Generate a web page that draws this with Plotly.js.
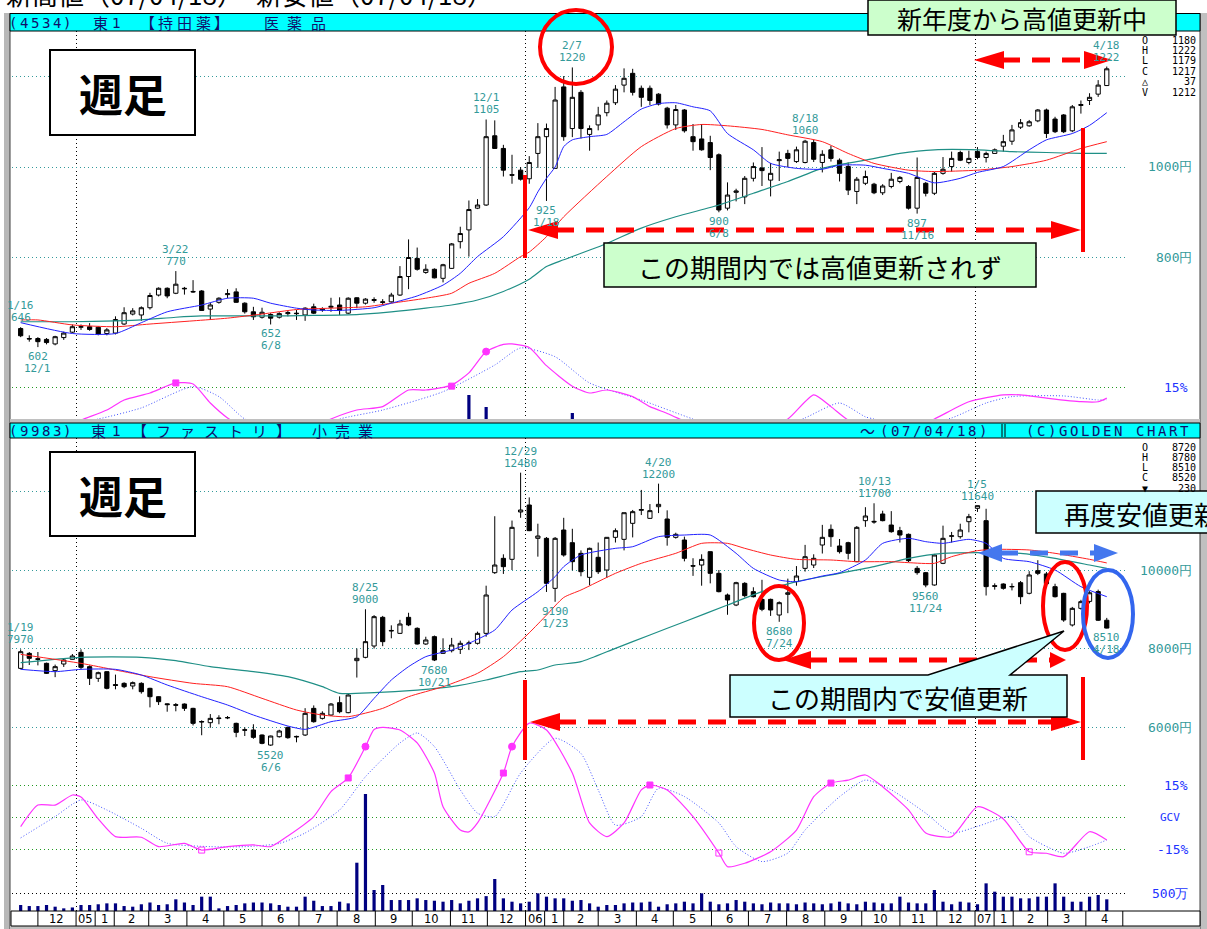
<!DOCTYPE html>
<html><head><meta charset="utf-8">
<script src="https://cdn.plot.ly/plotly-3.0.1.min.js"></script>
<style>html,body{margin:0;padding:0;background:#fff;overflow:hidden}#chart{width:1207px;height:929px}</style>
</head><body><div id="chart"></div><script>
// ---------------- DATA ----------------
// weekly candles, week index k = -7 .. 119 (week 0 = week of 2005-01-03)
const weekFirst = -7, weekLast = 119;
// 4534 持田薬
const topOpen = [643,621,621,619,609,623,635,
 646,647,646,632,633,653,675,673,689,717,
 732,721,732,725,726,686,701,718,724,699,
 680,668,674,668,676,677,673,691,684,690,
 695,677,711,699,705,702,702,717,758,798,
 767,774,754,776,835,861,909,916,1069,1041,
 983,993,974,1030,1067,997,1177,1085,1165,1072,
 1093,1120,1142,1181,1207,1174,1174,1161,1130,1093,
 1126,1067,1062,1054,1027,909,944,934,975,998,
 971,1014,1030,1012,1010,1054,1010,1038,1015,1001,
 946,964,962,943,957,968,957,909,964,942,
 986,1001,1032,1010,1034,1021,1030,1046,1057,1088,
 1091,1102,1126,1106,1115,1080,1136,1147,1161,1180];
const topHigh = [646,628,624,622,627,636,652,
 652,655,648,644,670,690,688,692,722,734,
 734,770,735,750,728,700,712,730,732,701,
 691,689,677,679,682,684,690,698,690,711,
 712,712,712,710,712,708,722,781,840,822,
 785,776,786,832,868,926,929,1105,1103,1049,
 1027,1000,1024,1097,1096,1177,1201,1220,1170,1092,
 1133,1147,1181,1218,1217,1180,1180,1163,1133,1137,
 1128,1095,1095,1069,1030,966,952,980,1010,1044,
 1009,1034,1038,1045,1060,1060,1037,1047,1019,1010,
 978,992,965,962,987,980,960,1021,967,989,
 1022,1034,1036,1036,1044,1034,1041,1071,1093,1106,
 1104,1128,1129,1111,1117,1137,1147,1163,1192,1222];
const topLow = [624,614,602,608,606,618,633,
 640,638,628,628,630,651,672,660,685,714,
 710,719,718,722,682,662,698,710,700,676,
 662,665,652,665,670,662,660,675,680,680,
 673,675,688,696,700,695,700,715,730,771,
 764,754,745,775,820,802,907,914,1041,979,
 963,970,963,998,925,997,1058,1066,1063,1036,
 1081,1112,1137,1165,1158,1133,1137,1136,1085,1082,
 1076,1036,1036,993,900,904,924,918,968,958,
 935,969,1000,1009,1008,1011,988,1012,968,938,
 918,960,940,938,953,964,906,897,935,938,
 983,990,1013,1006,1017,1010,1030,1034,1049,1084,
 1089,1099,1064,1075,1075,1077,1118,1137,1155,1179];
const topClose = [627,620,614,612,625,633,647,
 647,641,631,640,663,678,682,689,716,732,
 715,741,731,724,683,695,710,720,701,680,
 669,679,666,676,678,676,688,677,686,692,
 683,710,699,708,707,701,717,758,800,774,
 774,755,784,830,853,906,916,1067,1041,993,
 982,973,1010,1067,1085,1148,1067,1154,1085,1085,
 1115,1141,1172,1196,1165,1154,1147,1139,1093,1127,
 1080,1056,1038,1021,905,938,947,975,1001,992,
 986,1016,1019,1038,1057,1017,1028,1019,986,949,
 973,979,943,958,973,977,909,977,942,986,
 995,1019,1015,1019,1021,1030,1038,1056,1082,1098,
 1100,1126,1074,1078,1078,1133,1138,1154,1181,1217];
const topMA13Wk = [-7,-1,4,7,10,14,17,20,22,25,27,30,34,36,39,42,44,46,49,52,53,54,55,56,57,59,61,63,65,67,69,71,73,75,78,80,83,86,88,91,93,96,99,102,104,107,110,112,115,117,119];
const topMA13 = [656,632,632,656,680,695,710,710,699,688,684,683,689,699,715,739,765,802,846,910,945,975,1000,1045,1060,1067,1072,1100,1128,1140,1142,1133,1124,1074,1038,1008,997,995,1004,1004,997,986,965,975,988,1001,1038,1060,1074,1092,1120];
const topMA26Wk = [-7,-5,-1,4,8,13,17,21,25,29,33,36,40,43,45,48,51,52,54,56,61,65,69,72,75,79,82,86,89,92,96,99,104,108,112,116,119];
const topMA26 = [662,662,651,647,653,660,666,675,685,688,691,699,710,721,743,765,802,812,846,890,979,1045,1085,1094,1091,1083,1071,1056,1030,1008,993,990,993,1001,1015,1041,1056];
const topMA52Wk = [-7,-1,4,7,11,14,18,24,27,31,36,40,43,46,49,52,54,56,61,65,69,74,78,82,86,91,95,99,104,108,112,116,119];
const topMA52 = [658,658,660,662,668,671,671,671,672,673,680,688,695,706,725,752,780,795,831,865,890,916,942,968,997,1015,1030,1038,1038,1034,1032,1030,1030];
const topOscWk = [-3,0,3,5,8,11,13,15,17,19,23,27,29,32,35,38,40,43,45,47,49,50,52,54,57,59,61,64,66,68,70,74,79,82,85,87,89,92,96,99,103,107,109,112,116,118,119];
const topOsc = [-6,-0.5,4.2,8.9,12.2,16.9,16.4,7.5,0.5,-4,-8,-4,0,4.2,5.8,13.6,13.6,15.9,21.6,31.6,35,35.2,33.5,25,15.4,12.2,13.6,10.5,5.8,2.6,-1,-8,-4,0,11.3,5.8,-0.5,-5,-5,0,8.1,11.3,11.3,9.8,8.1,8.1,9.8];
const topSigWk = [-3,2,7,13,16,19,23,27,30,35,42,48,51,55,59,65,71,76,81,84,88,91,92,96,101,105,108,114,118,119];
const topSig = [-3,0,5.2,15.2,10.5,0,-6,-5,0,4.2,12.8,25.3,33.3,29.2,16.9,8.9,0,-6,-4,0.5,7.5,1,0,-4,0.5,7.5,10.5,10.8,8.9,9];
const topSqWk = [11,43], topSq = [16.9,15.4];
const topDotWk = [47], topDot = [31.6];
const topVolWk = [45,47,57], topVol = [65,53,47];

// 9983 ファストリ
const botOpen = [7494,7876,7740,7622,7435,7605,7724,
 7902,7537,7240,7410,7080,7112,7045,7112,6985,6772,
 6590,6570,6585,6475,6140,6110,6215,6240,6093,5930,
 5924,5796,5540,5753,5990,5760,5796,6475,6220,6305,
 6620,6365,7690,7775,8064,8794,8460,8386,8794,8514,
 8115,8302,7877,7945,7979,8125,8132,8386,9932,10297,
 10272,11478,11656,10807,10807,9533,11019,10696,10424,9813,
 10323,10000,10832,10781,11189,11520,11316,11613,11299,10832,
 10764,10110,10127,10467,9915,9363,9108,9660,9448,9252,
 9252,8853,9380,9703,10042,10127,10637,11036,10612,10696,
 10212,11257,11240,11427,11146,11002,10909,10042,9932,9618,
 10170,10860,10849,11231,11571,11257,9600,9643,9570,9677,
 9406,9983,9900,9575,9405,8599,9023,9200,9450,8720];
const botHigh = [7978,7910,7910,7640,7590,7740,7860,
 7978,7570,7410,7420,7335,7140,7160,7140,7000,6780,
 6600,6610,6600,6490,6170,6330,6300,6280,6110,5990,
 6070,5810,5780,5930,6010,5780,6480,6550,6400,6610,
 6780,6840,8000,9000,8850,8830,8590,8730,8910,8540,
 8300,8330,8260,8270,8200,8200,8430,9600,11370,10400,
 11260,12480,11850,11180,10840,10840,11330,11050,10500,10570,
 10700,10840,11060,11460,11530,12040,11680,12200,11520,10950,
 10850,10300,10400,10470,10000,9400,9700,9690,9560,9750,
 9270,9200,9780,10100,10640,10400,11150,11160,10790,10720,
 11120,11600,11700,11510,11500,11100,10930,10100,9950,10410,
 11130,10970,11180,11430,11640,11560,9660,9660,9660,9720,
 9970,10250,9950,9650,9420,9060,9240,9460,9500,8780];
const botLow = [7470,7580,7570,7350,7270,7530,7720,
 7470,7070,7150,6960,6960,6990,6960,6850,6500,6560,
 6390,6400,6410,6040,5790,5980,6070,6200,5740,5770,
 5700,5560,5520,5730,5700,5610,5770,6110,6190,6280,
 6350,6350,7260,7750,8000,8060,8260,8370,8570,8100,
 8090,7680,7860,7900,7860,7960,8100,8300,9900,9900,
 10000,11330,10990,10340,9440,9190,10340,9990,9840,9610,
 9900,9800,10700,10500,10830,11400,11300,11450,10620,10800,
 10220,9850,9600,9660,9430,8860,9080,9300,9300,8950,
 8830,8680,8900,9600,9960,10050,10420,10590,10420,10270,
 10200,11100,11180,11240,10950,10700,10200,9880,9560,9600,
 10150,10700,10800,10960,11480,9350,9500,9500,9480,9130,
 9380,9870,9600,9300,8680,8560,8990,9150,8700,8510];
const botClose = [7919,7749,7724,7367,7537,7707,7809,
 7520,7240,7384,6985,7060,7027,7130,6900,6772,6645,
 6570,6555,6475,6093,6130,6220,6225,6235,5864,5920,
 5736,5583,5770,5898,5728,5750,6348,6135,6348,6585,
 6390,6815,7750,8174,8811,8174,8450,8624,8600,8115,
 8217,7707,7945,8089,8132,8140,8386,9363,10127,10085,
 11087,11529,11002,10866,9660,10807,10382,10212,9957,10552,
 9957,10832,11002,11460,11486,11540,11512,11673,10832,10909,
 10297,10100,10270,9915,9448,9236,9677,9346,9320,9000,
 8981,9168,9420,9847,10339,10297,10832,10849,10467,10425,
 11087,11376,11225,11257,10976,10891,10238,9932,9618,10382,
 10807,10870,11019,11359,11639,9576,9585,9533,9580,9320,
 9873,9915,9650,9320,8726,9023,9193,9420,8720,8520];
const botVol = [169,140,140,169,122,75,100,
 169,169,190,216,216,140,122,190,240,169,
 190,330,240,169,405,405,75,140,169,216,
 240,240,216,169,122,122,405,290,140,140,
 263,216,1364,3305,593,735,310,310,310,358,
 310,290,263,310,216,290,358,420,904,358,
 263,216,263,499,405,358,358,290,310,216,
 122,169,169,216,240,240,263,122,190,216,
 263,216,499,263,190,216,310,263,216,190,
 240,216,216,190,240,216,190,216,263,216,
 190,263,240,216,216,405,240,216,216,593,
 263,190,263,240,190,781,546,405,405,358,
 358,405,405,781,405,263,263,405,452,330];
const botMA13Wk = [-7,-3,0,4,7,10,14,17,20,24,26,29,32,34,36,38,40,43,45,48,50,53,55,56,58,62,64,67,70,73,76,78,81,83,86,88,91,93,96,98,100,103,105,107,110,113,116,119];
const botMA13 = [7469,7410,7469,7469,7325,7070,6772,6560,6305,6025,5940,6135,6263,6730,7197,7537,7792,7962,8132,8471,8980,9448,9830,10085,10382,10552,10594,10849,10891,10891,10425,10042,9745,9703,9847,9932,10255,10679,10807,10722,10679,10781,10679,10297,10212,10000,9575,9320];
const botMA26Wk = [-7,0,4,8,13,17,21,25,28,31,35,38,42,46,49,52,54,56,58,62,65,69,72,75,77,80,83,87,90,94,96,99,101,104,106,110,113,117,119];
const botMA26 = [7851,7622,7452,7282,7112,7027,6730,6433,6305,6263,6475,6772,7027,7367,7792,8400,8850,9300,9490,9915,10170,10425,10679,10679,10552,10382,10272,10255,10212,10212,10187,10170,10340,10493,10527,10510,10425,10272,10180];
const botMA52Wk = [-7,0,7,11,15,20,24,28,30,34,39,43,47,51,53,55,58,62,66,70,75,79,83,88,92,96,100,105,109,113,117,119];
const botMA52 = [7640,7775,7775,7690,7537,7410,7282,7027,6857,6875,6942,7027,7197,7410,7452,7579,7664,8004,8344,8683,9108,9448,9703,9915,10085,10297,10425,10442,10425,10297,10127,10040];
const botOscWk = [-7,-5,-3,-1,0,2,4,7,9,12,14,17,20,22,24,27,29,31,33,34,35,37,39,41,42,44,45,46,49,50,52,54,57,59,61,63,65,66,68,71,74,75,77,80,83,85,87,89,91,93,96,98,101,104,107,110,112,114,117,119];
const botOsc = [-4.5,5.6,5.6,10.3,9.4,-0.9,-9.2,-9.5,-13.9,-12.4,-15.5,-13.9,-13.1,-13.9,-8.9,0.2,11.9,18.3,33,41,42,40.8,34.7,20.6,4.8,-6.1,-7,-2.8,20.6,33,44,40.8,20.6,-2.8,-9.2,-2.8,12.7,15,12.7,0.2,-16.9,-23.3,-21.7,-16.3,-6.1,9.5,15.9,17.3,19.7,14.2,3.3,-7.5,-9.2,4.8,-0.9,-16.3,-17,-18.6,-6.9,-10.8];
const botSigWk = [-7,-3,0,3,7,10,15,19,23,26,30,33,37,39,41,44,46,48,51,55,58,60,62,65,67,70,74,76,79,82,84,88,91,94,98,101,104,108,110,114,117,119];
const botSig = [-9.8,0.2,8,3.3,-5.3,-12.3,-13.9,-13.9,-12.4,-7.5,3.3,18.9,34.7,39.4,33,12.7,1.8,0.2,20.6,36.9,29.8,12.7,-3.8,0.2,13.5,9.6,-2.8,-13.9,-20.9,-16.9,-6.1,9.5,17.3,12.7,1.8,-7.5,-4.4,0.2,-9.2,-17,-13.9,-10.8];
const botSqWk = [31,49,66,87], botSq = [18.3,20.6,15,15.9];
const botDotWk = [33,50], botDot = [33,33];
const botOpenSqWk = [14,74,110], botOpenSq = [-15.5,-16.9,-16.3];

// high / low labels: [week, price, line1, line2, above?]
const topLabels = [[-7,646,'1/16','646',1],[-5,602,'602','12/1',0],[11,770,'3/22','770',1],[22,652,'652','6/8',0],
 [47,1105,'12/1','1105',1],[54,925,'925','1/18',0],[57,1220,'2/7','1220',1],[74,900,'900','6/8',0],
 [84,1060,'8/18','1060',1],[97,897,'897','11/16',0],[119,1222,'4/18','1222',1]];
const botLabels = [[-7,7978,'1/19','7970',1],[22,5520,'5520','6/6',0],[33,9000,'8/25','9000',1],[41,7680,'7680','10/21',0],
 [51,12480,'12/29','12480',1],[55,9190,'9190','1/23',0],[67,12200,'4/20','12200',1],[81,8680,'8680','7/24',0],
 [92,11700,'10/13','11700',1],[98,9560,'9560','11/24',0],[104,11640,'1/5','11640',1],[119,8510,'8510','4/18',0]];
const topQuote = [['O','1180'],['H','1222'],['L','1179'],['C','1217'],['△','37'],['V','1212']];
const botQuote = [['O','8720'],['H','8780'],['L','8510'],['C','8520'],['▼','230']];
const monthLabels = ['12','1','2','3','4','5','6','7','8','9','10','11','12','1','2','3','4','5','6','7','8','9','10','11','12','1','2','3','4'];
const yearLabels = ['05','06','07'];

// ---------------- GEOMETRY ----------------
const W = 1207, H = 929, DAY = 86400000;
const BASE = Date.UTC(2005, 0, 5);
const PXDAY = 8.62 / 7;
const PX = x => x / W, PY = y => 1 - y / H;
const fmt = ms => new Date(ms).toISOString().replace('T', ' ').replace('Z', '');
const wkDate = k => new Date(BASE + k * 7 * DAY).toISOString().slice(0, 10);
const pxToMs = px => BASE + (px - 81) / PXDAY * DAY;
const weeks = []; for (let k = weekFirst; k <= weekLast; k++) weeks.push(wkDate(k));
const X0 = 12, X1 = 1125;
const TT = 31, TB = 420, BT = 438, BB = 911;
const tPrice = y => 1000 + (167 - y) / 0.4525;
const tOsc = y => (419 - y) / 2.133;
const tVol = y => 460 - y;
const bPrice = y => 10000 + (570 - y) / 0.03925;
const bOsc = y => (817 - y) * 15 / 32;
const bVol = y => (911 - y) * 500 / 17.7;

function yax(top, bot, f, grid, gcol, over) {
  const a = {domain: [PY(bot), PY(top)], range: [f(bot), f(top)], showticklabels: false, ticks: '',
    zeroline: false, showline: false, fixedrange: true};
  if (grid) { a.tickvals = grid; a.showgrid = true; a.gridcolor = gcol; a.griddash = '1px,3px'; a.gridwidth = 1; }
  else a.showgrid = false;
  if (over) { a.overlaying = over; delete a.domain; }
  return a;
}

const TEAL = '#339a9a', MAG = '#ff33ff', SIGB = '#4455ff', NAVY = '#000080', HDR = '#10106a';
const traces = [];
function candle(o, h, l, c, ya) {
  traces.push({type: 'candlestick', x: weeks, open: o, high: h, low: l, close: c, xaxis: 'x', yaxis: ya,
    increasing: {line: {color: '#000', width: 1}, fillcolor: '#fff'},
    decreasing: {line: {color: '#000', width: 1}, fillcolor: '#000'},
    whiskerwidth: 0, hoverinfo: 'skip', showlegend: false});
}
function line(wk, v, ya, color, width, dash) {
  traces.push({type: 'scatter', mode: 'lines', x: wk.map(wkDate), y: v, xaxis: 'x', yaxis: ya,
    line: {color: color, width: width, dash: dash || 'solid', shape: 'spline', smoothing: 0.6},
    hoverinfo: 'skip', showlegend: false});
}
function marks(wk, v, ya, sym, color, size) {
  traces.push({type: 'scatter', mode: 'markers', x: wk.map(wkDate), y: v, xaxis: 'x', yaxis: ya,
    marker: {symbol: sym, color: color, size: size, line: {color: color, width: 1}}, hoverinfo: 'skip', showlegend: false});
}
traces.push({type: 'bar', x: topVolWk.map(wkDate), y: topVol, xaxis: 'x', yaxis: 'y3', marker: {color: NAVY},
  width: 3.2 / PXDAY * DAY, hoverinfo: 'skip', showlegend: false});
line(topSigWk, topSig, 'y2', SIGB, 1, '1px,2px');
line(topOscWk, topOsc, 'y2', MAG, 1.2);
marks(topSqWk, topSq, 'y2', 'square', MAG, 6);
marks(topDotWk, topDot, 'y2', 'circle', MAG, 7);
candle(topOpen, topHigh, topLow, topClose, 'y');
line(topMA52Wk, topMA52, 'y', '#1f8f86', 1.2);
line(topMA26Wk, topMA26, 'y', '#ff2020', 1);
line(topMA13Wk, topMA13, 'y', '#2222ff', 1);
line(botSigWk, botSig, 'y5', SIGB, 1, '1px,2px');
line(botOscWk, botOsc, 'y5', MAG, 1.2);
marks(botSqWk, botSq, 'y5', 'square', MAG, 6);
marks(botDotWk, botDot, 'y5', 'circle', MAG, 7);
marks(botOpenSqWk, botOpenSq, 'y5', 'square-open', MAG, 6);
traces.push({type: 'bar', x: weeks, y: botVol, xaxis: 'x', yaxis: 'y6', marker: {color: NAVY},
  width: 3.2 / PXDAY * DAY, hoverinfo: 'skip', showlegend: false});
candle(botOpen, botHigh, botLow, botClose, 'y4');
line(botMA52Wk, botMA52, 'y4', '#1f8f86', 1.2);
line(botMA26Wk, botMA26, 'y4', '#ff2020', 1);
line(botMA13Wk, botMA13, 'y4', '#2222ff', 1);

// ---------------- SHAPES / ANNOTATIONS ----------------
const shapes = [], ann = [];
function rect(x0, y0, x1, y1, fill, lc, lw) {
  shapes.push({type: 'rect', xref: 'paper', yref: 'paper', x0: PX(x0), x1: PX(x1), y0: PY(y1), y1: PY(y0),
    fillcolor: fill, line: {color: lc || 'rgba(0,0,0,0)', width: lw || 0}, layer: 'above'});
}
function seg(x0, y0, x1, y1, color, w, dash) {
  shapes.push({type: 'line', xref: 'paper', yref: 'paper', x0: PX(x0), x1: PX(x1), y0: PY(y0), y1: PY(y1),
    line: {color: color, width: w, dash: dash || 'solid'}, layer: 'above'});
}
function ell(cx, cy, rx, ry, color, w) {
  shapes.push({type: 'circle', xref: 'paper', yref: 'paper', x0: PX(cx - rx), x1: PX(cx + rx), y0: PY(cy + ry), y1: PY(cy - ry),
    line: {color: color, width: w}, layer: 'above'});
}
function poly(pts, fill, lc, lw) {
  const d = pts.map((p, i) => (i ? 'L' : 'M') + PX(p[0]) + ',' + PY(p[1])).join(' ') + ' Z';
  shapes.push({type: 'path', xref: 'paper', yref: 'paper', path: d, fillcolor: fill,
    line: {color: lc || fill, width: lw === undefined ? 0 : lw}, layer: 'above'});
}
function arrow(xa, xb, y, color, w, hl, hh, hlR, hhR) {
  seg(xa + hl - 2, y, xb - hlR + 2, y, color, w, '18px,12px');
  poly([[xa, y], [xa + hl, y - hh], [xa + hl, y + hh]], color);
  poly([[xb, y], [xb - hlR, y - hhR], [xb - hlR, y + hhR]], color);
}
function txt(x, y, s, size, color, anchor, family, extra) {
  ann.push(Object.assign({xref: 'paper', yref: 'paper', x: PX(x), y: PY(y), text: s, showarrow: false,
    xanchor: anchor || 'center', yanchor: 'middle',
    font: {size: size, color: color, family: family || 'Noto Sans CJK JP'}}, extra || {}));
}
function spaced(str, x0, adv, y, size, color, family) {
  Array.from(str).forEach((ch, i) => { if (ch !== ' ') txt(x0 + adv * (i + 0.5), y, ch, size, color, 'center', family); });
}

// frame
rect(0, 0, W, 13, '#ffffff');
rect(4, 13, 10, H, '#b8b8b8');
seg(10, 13, 10, H, '#404040', 1);
rect(1200, 13, W, H, '#c0c0c0');
seg(1200, 13, 1200, H, '#404040', 1);
rect(10, 419, 1200, 423, '#c0c0c0');
rect(10, 926, 1200, H, '#c0c0c0');
rect(10, 13.5, 1200, 31, '#00ffff', '#000', 1);
rect(10, 423, 1200, 438, '#00ffff', '#000', 1);
seg(1002, 424, 1002, 437, '#000', 1); seg(1005, 424, 1005, 437, '#000', 1);
// x axis month row
rect(11, 911, 1200, 926, '#ffffff', '#000', 1);
const monthStarts = [];
for (let i = 0; i <= monthLabels.length; i++) monthStarts.push(Date.UTC(2004, 11 + i, 1));
const msToPx = ms => 81 + (ms - BASE) / DAY * PXDAY;
monthStarts.forEach(ms => seg(msToPx(ms), 911, msToPx(ms), 926, '#000', 1));
let yi = 0;
monthLabels.forEach((lab, i) => {
  const a = msToPx(monthStarts[i]), b = msToPx(monthStarts[i + 1]);
  if (lab === '1') {
    const mid = a + (b - a) / 2;
    seg(mid, 911, mid, 926, '#000', 1);
    txt((a + mid) / 2, 919, yearLabels[yi++], 11.5, '#000', 'center', 'DejaVu Sans');
    txt((mid + b) / 2, 919, lab, 11.5, '#000', 'center', 'DejaVu Sans');
  } else txt((a + b) / 2, 919, lab, 11.5, '#000', 'center', 'DejaVu Sans');
});

// headers
spaced('(4534)', 8, 10.8, 22.5, 14, HDR, 'DejaVu Sans Mono');
txt(100, 22.5, '東', 15, HDR); txt(116, 22.5, '1', 14, HDR, 'center', 'DejaVu Sans');
spaced('【持田薬】', 138, 18.6, 22.5, 15, HDR);
spaced('医薬品', 260, 23.3, 22.5, 15, HDR);
spaced('(9983)', 8, 10.8, 430.5, 14, HDR, 'DejaVu Sans Mono');
txt(98, 430.5, '東', 15, HDR); txt(116, 430.5, '1', 14, HDR, 'center', 'DejaVu Sans');
spaced('【ファストリ】', 127, 24.1, 430.5, 15, HDR);
spaced('小売業', 308, 23, 430.5, 15, HDR);
txt(867, 430.5, '〜', 15, HDR);
spaced('(07/04/18)', 878, 11.1, 430.5, 14, HDR, 'DejaVu Sans Mono');
spaced('(C)GOLDEN CHART', 1024, 11.07, 430.5, 14, HDR, 'DejaVu Sans Mono');
// cut title at very top of the picture
txt(4, -6, '新高値（07/04/18）・新安値（07/04/18）', 26, '#000', 'left');

// 週足 boxes
rect(50, 50, 195, 135, '#ffffff', '#000', 2);
txt(122.5, 93, '<b>週足</b>', 44, '#000');
rect(50, 452, 195, 536, '#ffffff', '#000', 2);
txt(122.5, 495, '<b>週足</b>', 44, '#000');

// right side value labels
function axLabel(yref, v, s, color, x, size) {
  ann.push({xref: 'paper', yref: yref, x: PX(x), y: v, text: s, showarrow: false, xanchor: 'right', yanchor: 'middle',
    font: {size: size || 13, color: color, family: 'DejaVu Sans Mono'}});
}
axLabel('y', 1000, '1000円', TEAL, 1194); axLabel('y', 800, '800円', TEAL, 1194);
axLabel('y2', 15, '15%', '#2233ff', 1190);
axLabel('y4', 10000, '10000円', TEAL, 1194); axLabel('y4', 8000, '8000円', TEAL, 1194); axLabel('y4', 6000, '6000円', TEAL, 1194);
axLabel('y5', 15, '15%', '#2233ff', 1190); axLabel('y5', 0, 'GCV', '#2233ff', 1182, 11); axLabel('y5', -15, '-15%', '#2233ff', 1190);
axLabel('y6', 500, '500万', '#2233ff', 1190);
topQuote.forEach((q, i) => { txt(1140, 40 + i * 10.4, q[0], 10, '#000', 'left', 'DejaVu Sans Mono'); txt(1198, 40 + i * 10.4, q[1], 10, '#000', 'right', 'DejaVu Sans Mono'); });
botQuote.forEach((q, i) => { txt(1140, 447 + i * 10.3, q[0], 10, '#000', 'left', 'DejaVu Sans Mono'); txt(1198, 447 + i * 10.3, q[1], 10, '#000', 'right', 'DejaVu Sans Mono'); });

// high / low labels
function hiLo(list, yref) {
  list.forEach(L => {
    const base = {xref: 'x', yref: yref, x: wkDate(L[0]), y: L[1], showarrow: false, xanchor: 'center',
      font: {size: 11, color: TEAL, family: 'DejaVu Sans Mono'}};
    if (L[4]) {
      ann.push(Object.assign({}, base, {text: L[3], yanchor: 'bottom', yshift: 1}));
      ann.push(Object.assign({}, base, {text: L[2], yanchor: 'bottom', yshift: 13}));
    } else {
      ann.push(Object.assign({}, base, {text: L[2], yanchor: 'top', yshift: -1}));
      ann.push(Object.assign({}, base, {text: L[3], yanchor: 'top', yshift: -13}));
    }
  });
}
hiLo(topLabels, 'y'); hiLo(botLabels, 'y4');

// red / blue markup
const RED = '#ff0000';
ell(576, 47, 36, 37, RED, 4);
seg(525, 175, 525, 258, RED, 4);
seg(1083, 128, 1083, 252, RED, 4);
arrow(528, 1081, 230, RED, 5, 30, 9, 30, 9);
arrow(974, 1112, 60, RED, 5, 30, 9, 28, 9);
rect(604, 243, 1036, 287, '#ccffcc', '#000', 1.5);
txt(820, 266, 'この期間内では高値更新されず', 26, '#000');
rect(868, 0, 1176, 35, '#ccffcc', '#000', 1.5);
txt(1022, 18, '新年度から高値更新中', 25, '#000');

ell(779, 623, 25, 37, RED, 4);
ell(1065, 606, 22, 44, RED, 4);
ell(1108, 614, 25, 44, '#3366ee', 4);
arrow(783, 1066, 660, RED, 5, 28, 9, 16, 8);
seg(525, 680, 525, 760, RED, 4);
seg(1083, 677, 1083, 760, RED, 4);
arrow(530, 1081, 722, RED, 5, 30, 9, 30, 9);
arrow(978, 1118, 553, '#4477ee', 5, 24, 9, 24, 9);
poly([[730, 675], [928, 675], [1064, 631], [1010, 675], [1067, 675], [1067, 717], [730, 717]], '#ccffff', '#000', 1.5);
txt(898, 697, 'この期間内で安値更新', 26, '#000');
rect(1036, 491, 1215, 533, '#ccffff', '#000', 1.5);
txt(1062, 513, '再度安値更新', 26, '#000', 'left');

const layout = {
  width: W, height: H, margin: {l: 0, r: 0, t: 0, b: 0}, paper_bgcolor: '#fff', plot_bgcolor: '#fff',
  showlegend: false, dragmode: false, hovermode: false,
  xaxis: {type: 'date', domain: [PX(X0), PX(X1)], range: [fmt(pxToMs(X0)), fmt(pxToMs(X1))], anchor: 'y4',
    showticklabels: false, ticks: '', showline: false, zeroline: false, rangeslider: {visible: false},
    tickvals: ['2005-01-01', '2006-01-01', '2007-01-01'], showgrid: true, gridcolor: '#000', griddash: '1px,3px', gridwidth: 1, fixedrange: true},
  yaxis: yax(TT, TB, tPrice, [800, 1000, 1200], TEAL),
  yaxis2: yax(TT, TB, tOsc, [15], '#229922', 'y'),
  yaxis3: yax(TT, TB, tVol, null, null, 'y'),
  yaxis4: yax(BT, BB, bPrice, [6000, 8000, 10000, 12000], TEAL),
  yaxis5: yax(BT, BB, bOsc, [-15, 0, 15], '#229922', 'y4'),
  yaxis6: yax(BT, BB, bVol, [500], '#000', 'y4'),
  shapes: shapes, annotations: ann
};
Plotly.newPlot('chart', traces, layout, {displayModeBar: false, staticPlot: true});
</script></body></html>
